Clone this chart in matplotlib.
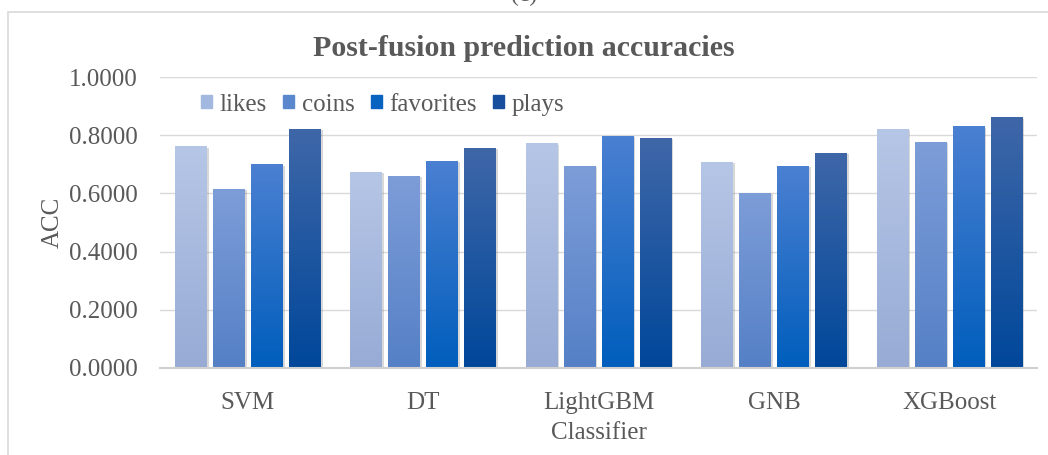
import matplotlib.pyplot as plt
import numpy as np
from matplotlib import patheffects
from matplotlib.colors import LinearSegmentedColormap
from matplotlib.patches import Rectangle

plt.rcParams["font.family"] = ["Liberation Serif", "DejaVu Serif"]

classifiers = ["SVM", "DT", "LightGBM", "GNB", "XGBoost"]
series_names = ["likes", "coins", "favorites", "plays"]
likes = [0.762, 0.675, 0.772, 0.708, 0.822]
coins = [0.615, 0.660, 0.694, 0.602, 0.778]
favorites = [0.700, 0.712, 0.798, 0.694, 0.830]
plays = [0.822, 0.757, 0.790, 0.739, 0.862]
y_ticks = [0.0, 0.2, 0.4, 0.6, 0.8, 1.0]

# top / bottom colours of each bar's vertical gradient, plus the legend swatch
gradients = [
    ("#b6c6e6", "#97abd5"),
    ("#7d9dd8", "#5580c6"),
    ("#4b80d2", "#005ebc"),
    ("#3f67a8", "#00479a"),
]
swatches = ["#a3b8df", "#5b88cc", "#0862c0", "#174f9e"]
TEXT = "#595959"
FS = 18

fig = plt.figure(figsize=(10.48, 4.55), dpi=100)
ax = fig.add_axes([160 / 1048, 1 - 368 / 455, 877 / 1048, 291 / 455])

# light frame around the chart area
fig.patches.append(Rectangle((8 / 1048, -0.05), 1.1, 1 - 12 / 455 + 0.05,
                             transform=fig.transFigure, fill=False,
                             edgecolor="#d9d9d9", linewidth=1.2, zorder=0))
fig.text(0.5, 1 - 1 / 455, "(c)", ha="center", va="baseline", fontsize=17, color=TEXT)

x = np.arange(len(classifiers))
width = 0.18
step = 0.2166
grad = np.linspace(0, 1, 256).reshape(-1, 1)

for i, (name, vals) in enumerate(zip(series_names, [likes, coins, favorites, plays])):
    top, bottom = gradients[i]
    cmap = LinearSegmentedColormap.from_list(name, [bottom, top])
    bars = ax.bar(x + (i - 1.5) * step, vals, width, color=bottom,
                  label=name, zorder=3, linewidth=0)
    for rect in bars:
        rect.set_path_effects([
            patheffects.SimplePatchShadow(offset=(1.5, -1), shadow_rgbFace="#7f7f7f", alpha=0.3),
            patheffects.Normal(),
        ])
        x0, w, h = rect.get_x(), rect.get_width(), rect.get_height()
        im = ax.imshow(grad, cmap=cmap, aspect="auto", origin="lower",
                       extent=(x0, x0 + w, 0, h), zorder=3.5)
        im.set_clip_path(rect)

ax.set_xlim(-0.5, len(classifiers) - 0.5)
ax.set_ylim(0, 1.0)
ax.set_yticks(y_ticks)
ax.set_yticklabels([f"{v:.4f}" for v in y_ticks])
ax.set_xticks(x)
ax.set_xticklabels(classifiers)
ax.tick_params(length=0, labelsize=FS, colors=TEXT)
ax.tick_params(axis="y", pad=16)
ax.tick_params(axis="x", pad=17)
ax.grid(axis="y", color="#d9d9d9", linewidth=1.0, zorder=0)
ax.set_axisbelow(True)
for side in ["top", "right", "left"]:
    ax.spines[side].set_visible(False)
ax.spines["bottom"].set_color("#d0d0d0")
ax.spines["bottom"].set_linewidth(1.5)
ax.spines["bottom"].set_zorder(4)

ax.set_ylabel("ACC", fontsize=FS, color=TEXT, labelpad=4)
ax.set_xlabel("Classifier", fontsize=FS, color=TEXT, labelpad=6)
fig.text(0.5, 1 - 48 / 455, "Post-fusion prediction accuracies", ha="center",
         va="center", fontsize=21.5, fontweight="bold", color=TEXT)

handles = [Rectangle((0, 0), 1, 1, color=c) for c in swatches]
leg = ax.legend(handles, series_names, loc="center left", ncol=4, frameon=False,
                bbox_to_anchor=(0.035, 0.905), fontsize=FS, handlelength=0.45,
                handleheight=0.45, handletextpad=0.3, columnspacing=0.65,
                borderaxespad=0)
for t in leg.get_texts():
    t.set_color(TEXT)

fig.savefig("out.png", dpi=100)
